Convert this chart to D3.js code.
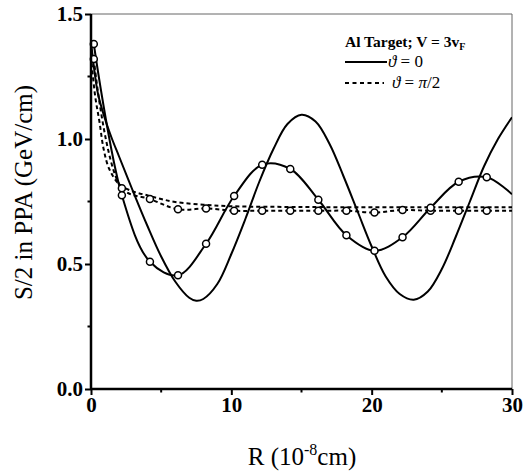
<!DOCTYPE html>
<html>
<head>
<meta charset="utf-8">
<script src="https://cdn.jsdelivr.net/npm/d3@7"></script>
<style>
  body { margin: 0; background: #fff; }
  svg { display: block; font-family: "Liberation Serif", "Times New Roman", serif; }
  svg text { font-family: "Liberation Serif", "Times New Roman", serif; }
</style>
</head>
<body>
<svg id="chart" width="525" height="476"></svg>
<script>
// R in 1e-8 cm, S/2 in GeV/cm
const solidR = [0, 0.25, 0.5, 1, 1.5, 2, 3, 4, 5, 6, 7, 7.5, 8, 9, 10, 11, 12, 13, 14, 15, 16, 17, 18, 19, 20, 21, 22, 23, 24, 25, 26, 27, 28, 29, 30];
const solidS = [1.39, 1.27, 1.18, 1.08, 1.0, 0.93, 0.79, 0.655, 0.53, 0.43, 0.365, 0.353, 0.36, 0.42, 0.54, 0.68, 0.83, 0.96, 1.06, 1.097, 1.07, 0.98, 0.85, 0.71, 0.57, 0.45, 0.38, 0.357, 0.39, 0.48, 0.61, 0.75, 0.89, 1.0, 1.087];

const dashR = [0, 0.3, 0.6, 0.9, 1.3, 2, 3, 4, 5, 6, 8, 10, 15, 20, 25, 30];
const dashS = [1.33, 1.17, 1.07, 0.96, 0.88, 0.82, 0.79, 0.775, 0.76, 0.748, 0.737, 0.731, 0.728, 0.727, 0.727, 0.727];

// circle-marked curves (markers at these R, line runs on to R = 30)
const markR = [0.2, 2.2, 4.2, 6.2, 8.2, 10.2, 12.2, 14.2, 16.2, 18.2, 20.2, 22.2, 24.2, 26.2, 28.2, 30];
const solidMarkS = [1.38, 0.775, 0.509, 0.455, 0.581, 0.772, 0.897, 0.88, 0.757, 0.615, 0.553, 0.607, 0.725, 0.829, 0.847, 0.779];
const dashMarkS = [1.32, 0.803, 0.76, 0.719, 0.722, 0.713, 0.713, 0.713, 0.713, 0.713, 0.706, 0.716, 0.713, 0.713, 0.713, 0.713];

const xTicks = [0, 10, 20, 30];
const xMinor = [5, 15, 25];
const yTicks = [0, 0.5, 1.0, 1.5];
const yMinor = [0.25, 0.75, 1.25];

const margin = { left: 91, right: 13, top: 14, bottom: 87 };
const width = 525, height = 476;

const svg = d3.select("#chart");

const x = d3.scaleLinear().domain([0, 30]).range([margin.left, width - margin.right]);
const y = d3.scaleLinear().domain([0, 1.5]).range([height - margin.bottom, margin.top]);

svg.append("defs").append("clipPath").attr("id", "plot")
  .append("rect")
  .attr("x", x(0)).attr("y", y(1.5))
  .attr("width", x(30) - x(0)).attr("height", y(0) - y(1.5));

// Frame: thin grey top/right
svg.append("path")
  .attr("d", `M${x(0)},${y(1.5)}H${x(30)}V${y(0)}`)
  .attr("fill", "none")
  .attr("stroke", "#666")
  .attr("stroke-width", 1);

const toPts = (xs, ys) => xs.map((r, i) => [r, ys[i]]);

const line = d3.line()
  .x(d => x(d[0]))
  .y(d => y(d[1]))
  .curve(d3.curveCatmullRom.alpha(0.5));

const plot = svg.append("g").attr("clip-path", "url(#plot)");

const curves = [
  { pts: toPts(solidR, solidS), dash: null },
  { pts: toPts(dashR, dashS), dash: "4,3" },
  { pts: toPts(markR, solidMarkS), dash: null },
  { pts: toPts(markR, dashMarkS), dash: "4,3" }
];

plot.selectAll("path.curve")
  .data(curves)
  .join("path")
  .attr("class", "curve")
  .attr("fill", "none")
  .attr("stroke", "#000")
  .attr("stroke-width", 2)
  .attr("stroke-dasharray", d => d.dash)
  .attr("d", d => line(d.pts));

// Markers (not at the R = 30 end point)
const markers = toPts(markR, dashMarkS).slice(0, -1).concat(toPts(markR, solidMarkS).slice(0, -1));
svg.append("g").selectAll("circle")
  .data(markers)
  .join("circle")
  .attr("cx", d => x(d[0]))
  .attr("cy", d => y(d[1]))
  .attr("r", 3.5)
  .attr("fill", "#fff")
  .attr("stroke", "#000")
  .attr("stroke-width", 1.5);

// Axes
const xAxis = svg.append("g")
  .attr("transform", `translate(0,${y(0)})`)
  .call(d3.axisBottom(x).tickValues(xTicks).tickSize(6).tickPadding(2).tickFormat(d3.format("d")));
svg.append("g").selectAll("line")
  .data(xMinor)
  .join("line")
  .attr("x1", d => x(d)).attr("x2", d => x(d))
  .attr("y1", y(0)).attr("y2", y(0) + 3.5)
  .attr("stroke", "#000").attr("stroke-width", 2);

const yAxis = svg.append("g")
  .attr("transform", `translate(${x(0)},0)`)
  .call(d3.axisLeft(y).tickValues(yTicks).tickSize(6).tickPadding(2).tickFormat(d3.format(".1f")));
svg.append("g").selectAll("line")
  .data(yMinor)
  .join("line")
  .attr("x1", x(0) - 3.5).attr("x2", x(0))
  .attr("y1", d => y(d)).attr("y2", d => y(d))
  .attr("stroke", "#000").attr("stroke-width", 2);

[xAxis, yAxis].forEach(a => {
  a.attr("font-family", null).attr("font-size", null);
  a.select(".domain").attr("stroke-width", 2.5);
  a.selectAll(".tick line").attr("stroke-width", 2);
  a.selectAll(".tick text")
    .style("font-family", "'Liberation Serif', serif")
    .style("font-size", "21px")
    .style("font-weight", "bold")
    .attr("fill", "#000");
});
xAxis.selectAll(".domain").attr("d", `M${x(0)},0H${x(30)}`);
yAxis.selectAll(".domain").attr("d", `M0,${y(0)}V${y(1.5)}`);

// Axis titles
const xTitle = svg.append("text")
  .attr("x", 302).attr("y", 465)
  .attr("text-anchor", "middle")
  .attr("font-size", 25);
xTitle.append("tspan").text("R (10");
xTitle.append("tspan").attr("font-size", 16).attr("dy", -10).text("-8");
xTitle.append("tspan").attr("dy", 10).text("cm)");

svg.append("text")
  .attr("transform", `translate(32,${(y(0) + y(1.5)) / 2 - 9}) rotate(-90)`)
  .attr("text-anchor", "middle")
  .attr("font-size", 25)
  .text("S/2 in PPA (GeV/cm)");

// Legend
const legend = svg.append("g").attr("font-size", 17);
const head = legend.append("text")
  .attr("x", 345).attr("y", 47)
  .attr("font-size", 15.5)
  .attr("font-weight", "bold");
head.append("tspan").text("Al Target; V = 3v");
head.append("tspan").attr("font-size", 10).attr("dy", 3).text("F");

legend.append("line")
  .attr("x1", 345).attr("x2", 387).attr("y1", 62).attr("y2", 62)
  .attr("stroke", "#000").attr("stroke-width", 2);
const l1 = legend.append("text").attr("x", 388).attr("y", 67);
l1.append("tspan").attr("font-style", "italic").text("ϑ");
l1.append("tspan").text(" = 0");

legend.append("line")
  .attr("x1", 345).attr("x2", 384).attr("y1", 83).attr("y2", 83)
  .attr("stroke", "#000").attr("stroke-width", 2)
  .attr("stroke-dasharray", "4,3.5");
const l2 = legend.append("text").attr("x", 392).attr("y", 88);
l2.append("tspan").attr("font-style", "italic").text("ϑ");
l2.append("tspan").text(" = ");
l2.append("tspan").attr("font-style", "italic").text("π");
l2.append("tspan").text("/2");
</script>
</body>
</html>
